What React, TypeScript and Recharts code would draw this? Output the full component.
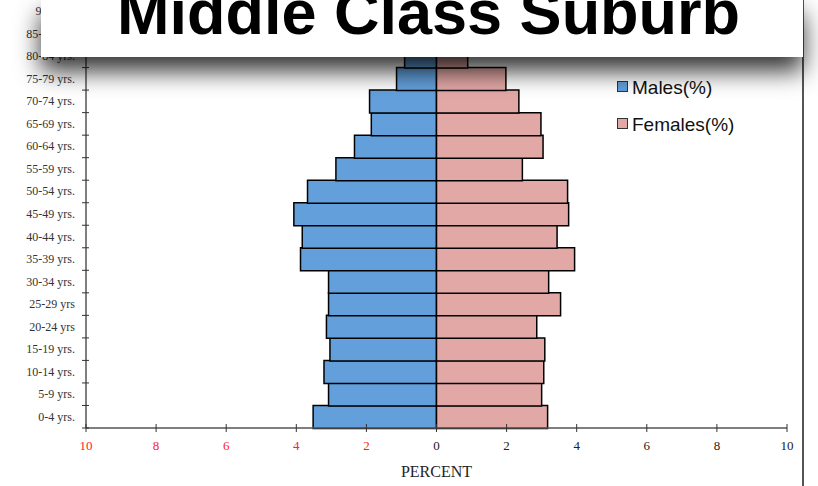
import { Bar, BarChart, Legend, XAxis, YAxis } from "recharts";

const ageGroups = [
  "0-4 yrs.", "5-9 yrs.", "10-14 yrs.", "15-19 yrs.", "20-24 yrs", "25-29 yrs",
  "30-34 yrs.", "35-39 yrs.", "40-44 yrs.", "45-49 yrs.", "50-54 yrs.", "55-59 yrs.",
  "60-64 yrs.", "65-69 yrs.", "70-74 yrs.", "75-79 yrs.", "80-84 yrs.", "85-89 yrs.", "90+ yrs.",
];
const malesPct = [3.52, 3.08, 3.21, 3.04, 3.14, 3.08, 3.08, 3.88, 3.83, 4.07, 3.68, 2.87, 2.34, 1.86, 1.91, 1.14, 0.91, 0.5, 0.2];
const femalesPct = [3.17, 3.0, 3.06, 3.09, 2.86, 3.54, 3.2, 3.94, 3.44, 3.77, 3.74, 2.45, 3.04, 2.98, 2.35, 1.98, 0.89, 0.6, 0.3];
const percentTicks = [-10, -8, -6, -4, -2, 0, 2, 4, 6, 8, 10];
const seriesOrder = ["Males(%)", "Females(%)"];

const W = 818;
const H = 486;
const X_AXIS_H = 58;
const HALF_BAND = (H - X_AXIS_H) / ageGroups.length / 2;

const data = ageGroups.map((age, i) => ({
  age,
  males: -malesPct[i],
  females: femalesPct[i],
}));

const serif = "'Liberation Serif', 'Times New Roman', serif";
const sans = "'Liberation Sans', Arial, Helvetica, sans-serif";

function AgeTick({ x, y, payload }: any) {
  return (
    <g>
      <line x1={x - 4} x2={x + 3} y1={y + HALF_BAND} y2={y + HALF_BAND} stroke="#333" />
      <text x={x - 11} y={y} dy={4} textAnchor="end" fontFamily={serif} fontSize={12} fill="#333">
        {payload.value}
      </text>
    </g>
  );
}

function PercentTick({ x, y, payload }: any) {
  const v = payload.value as number;
  return (
    <g>
      <line x1={x} x2={x} y1={y - 4} y2={y + 4} stroke="#333" />
      <text x={x} y={y + 22} textAnchor="middle" fontFamily={serif} fontSize={13} fill={v < 0 ? "#f22" : "#222"}>
        {Math.abs(v)}
      </text>
    </g>
  );
}

function LegendBox({ payload }: any) {
  const items = [...(payload || [])].sort(
    (a: any, b: any) => seriesOrder.indexOf(a.value) - seriesOrder.indexOf(b.value)
  );
  return (
    <div style={{ fontFamily: sans, fontSize: 19, color: "#111" }}>
      {items.map((p: any) => (
        <div key={p.value} style={{ display: "flex", alignItems: "center", height: 36.5 }}>
          <span
            style={{
              display: "inline-block",
              width: 9,
              height: 9,
              background: p.color,
              border: "1px solid #333",
              marginRight: 4,
              marginTop: -3,
            }}
          />
          <span>{p.value}</span>
        </div>
      ))}
    </div>
  );
}

export default function App() {
  return (
    <div style={{ position: "absolute", left: 0, top: 0, width: W, height: H, background: "#fff", overflow: "hidden" }}>
      <BarChart
        width={W}
        height={H}
        data={data}
        layout="vertical"
        stackOffset="sign"
        barCategoryGap={0}
        margin={{ top: 0, right: 31, bottom: 0, left: 0 }}
      >
        <XAxis
          type="number"
          domain={[-10, 10]}
          ticks={percentTicks}
          height={X_AXIS_H}
          tickSize={0}
          tickMargin={0}
          tickLine={false}
          tick={<PercentTick />}
          axisLine={{ stroke: "#555", strokeWidth: 1.5 }}
          label={{ value: "PERCENT", position: "insideBottom", offset: 9, fontFamily: serif, fontSize: 16, fill: "#222" }}
        />
        <YAxis
          type="category"
          dataKey="age"
          reversed
          width={86}
          interval={0}
          tickSize={0}
          tickMargin={0}
          tickLine={false}
          tick={<AgeTick />}
          axisLine={{ stroke: "#555", strokeWidth: 1.5 }}
        />
        <Legend
          layout="horizontal"
          verticalAlign="middle"
          align="center"
          content={<LegendBox />}
          wrapperStyle={{ left: 617, top: 70, width: 180, height: 80 }}
        />
        <Bar dataKey="males" name="Males(%)" stackId="p" fill="#63A0DB" stroke="#000" strokeWidth={1.5} isAnimationActive={false} />
        <Bar dataKey="females" name="Females(%)" stackId="p" fill="#E2A8A6" stroke="#000" strokeWidth={1.5} isAnimationActive={false} />
      </BarChart>
      <div style={{ position: "absolute", left: 802, top: 0, width: 1.5, height: H, background: "#555" }} />
      <div
        style={{
          position: "absolute",
          left: 41,
          top: 0,
          width: 762,
          height: 57,
          background: "#fff",
          boxShadow: "0 14px 24px rgba(0,0,0,0.8)",
        }}
      >
        <svg width={762} height={57} style={{ display: "block" }}>
          <text x={76} y={33.5} fontFamily={sans} fontWeight="bold" fontSize={63} fill="#000">
            Middle Class Suburb
          </text>
        </svg>
      </div>
    </div>
  );
}
